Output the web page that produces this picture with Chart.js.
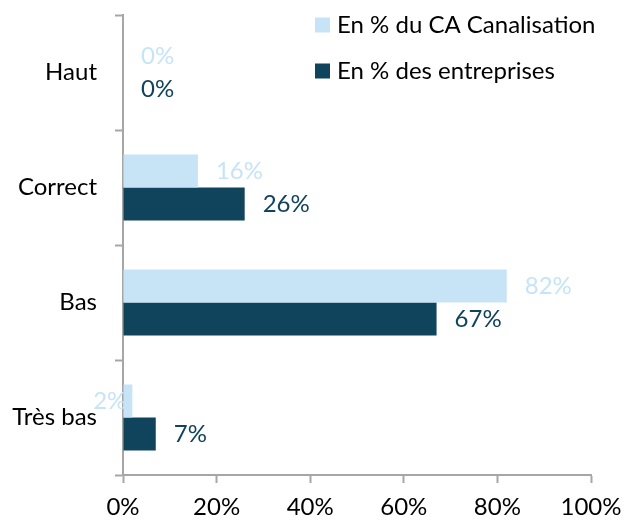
<!DOCTYPE html>
<html>
<head>
<meta charset="utf-8">
<script src="https://cdn.jsdelivr.net/npm/chart.js@4/dist/chart.umd.min.js"></script>
<style>
  html, body { margin: 0; padding: 0; background: #fff; }
  #wrap { width: 630px; height: 520px; }
</style>
</head>
<body>
<div id="wrap"><canvas id="c" width="630" height="520"></canvas></div>
<script>
const categories = ['Haut', 'Correct', 'Bas', 'Très bas'];
const caValues = [0, 16, 82, 2];
const entValues = [0, 26, 67, 7];
const xTickValues = [0, 20, 40, 60, 80, 100];
const seriesLabels = ['En % du CA Canalisation', 'En % des entreprises'];
const seriesColors = ['#C7E4F7', '#10435C'];

const FONT = 'Lato';
const FSIZE = 24;
const AXIS_COLOR = '#A6A6A6';

const valueLabels = {
  id: 'valueLabels',
  afterDatasetsDraw(chart) {
    const ctx = chart.ctx;
    ctx.save();
    ctx.font = FSIZE + 'px ' + FONT;
    ctx.textBaseline = 'middle';
    chart.data.datasets.forEach((ds, di) => {
      const meta = chart.getDatasetMeta(di);
      meta.data.forEach((el, i) => {
        const v = ds.data[i];
        ctx.fillStyle = ds.backgroundColor;
        if (v > 0 && v < 5 && di === 0) {
          ctx.textAlign = 'right';
          ctx.fillText(v + '%', el.x - 6, el.y);
        } else {
          ctx.textAlign = 'left';
          ctx.fillText(v + '%', el.x + 18, el.y);
        }
      });
    });
    ctx.restore();
  }
};

const customLegend = {
  id: 'customLegend',
  afterDraw(chart) {
    const ctx = chart.ctx;
    ctx.save();
    ctx.font = FSIZE + 'px ' + FONT;
    ctx.textBaseline = 'middle';
    ctx.textAlign = 'left';
    const x0 = 315, y0 = 25, gap = 46, box = 15;
    chart.data.datasets.forEach((ds, di) => {
      const y = y0 + di * gap;
      ctx.fillStyle = ds.backgroundColor;
      ctx.fillRect(x0, y - box / 2, box, box);
      ctx.fillStyle = '#000';
      ctx.fillText(ds.label, x0 + box + 7, y);
    });
    ctx.restore();
  }
};

new Chart(document.getElementById('c'), {
  type: 'bar',
  data: {
    labels: categories,
    datasets: [
      { label: seriesLabels[0], data: caValues, backgroundColor: seriesColors[0], borderWidth: 0 },
      { label: seriesLabels[1], data: entValues, backgroundColor: seriesColors[1], borderWidth: 0 }
    ]
  },
  options: {
    indexAxis: 'y',
    responsive: false,
    animation: false,
    categoryPercentage: 0.574,
    barPercentage: 1,
    layout: { padding: { top: 15, right: 39, left: 0, bottom: 0 } },
    plugins: {
      legend: { display: false },
      tooltip: { enabled: false }
    },
    scales: {
      x: {
        type: 'linear',
        min: 0,
        max: 100,
        afterBuildTicks(scale) { scale.ticks = xTickValues.map(v => ({ value: v })); },
        afterFit(scale) {
          scale.height = 45;
          scale.paddingLeft = 0; scale.paddingRight = 0;
          scale.paddingTop = 0; scale.paddingBottom = 0;
        },
        ticks: {
          callback: v => v + '%',
          color: '#000',
          font: { family: FONT, size: FSIZE },
          padding: 10,
          maxRotation: 0
        },
        grid: { drawOnChartArea: false, drawTicks: true, tickLength: 8, tickColor: AXIS_COLOR, tickWidth: 2 },
        border: { display: true, color: AXIS_COLOR, width: 2 }
      },
      y: {
        afterFit(scale) {
          scale.width = 123;
          scale.paddingLeft = 0; scale.paddingRight = 0;
          scale.paddingTop = 0; scale.paddingBottom = 0;
        },
        ticks: {
          color: '#000',
          font: { family: FONT, size: FSIZE },
          padding: 18
        },
        grid: { offset: true, drawOnChartArea: false, drawTicks: true, tickLength: 8, tickColor: AXIS_COLOR, tickWidth: 2 },
        border: { display: true, color: AXIS_COLOR, width: 2 }
      }
    }
  },
  plugins: [valueLabels, customLegend]
});
</script>
</body>
</html>
